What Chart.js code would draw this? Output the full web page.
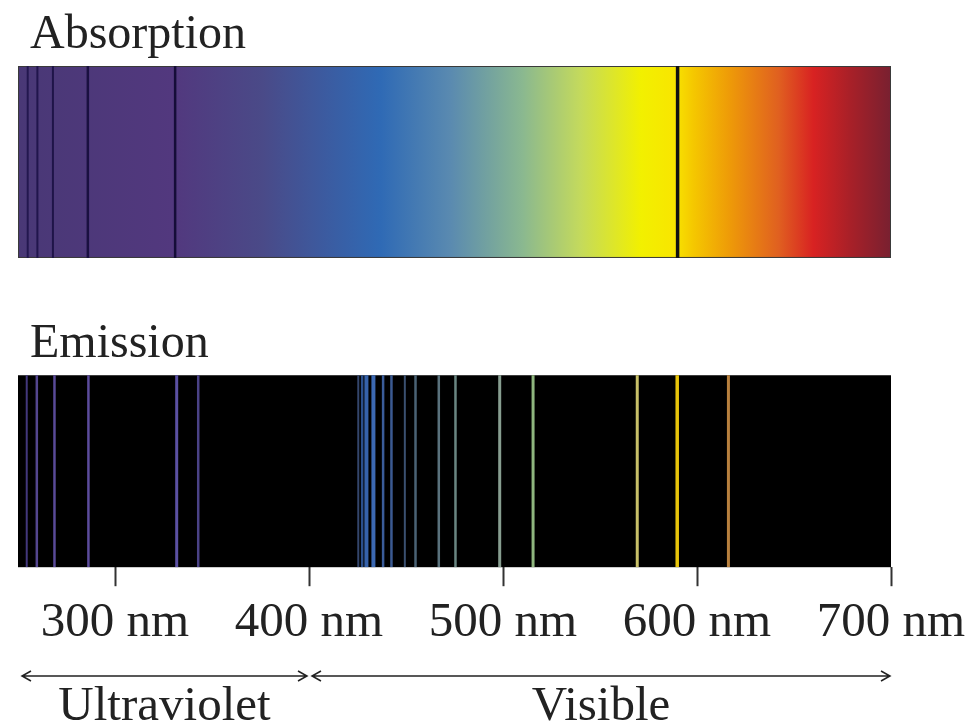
<!DOCTYPE html>
<html lang="en">
<head>
  <meta charset="UTF-8">
  <title>Absorption and Emission Spectrum</title>
</head>
<style>
  body { margin: 0; background: #fff; }
  .wrap { width: 977px; height: 727px; }
</style>
<body>
<div class="wrap">
  <canvas id="spectrum"></canvas>
</div>

<script src="https://cdn.jsdelivr.net/npm/chart.js"></script>

<script>
  // wavelengths in nm
  const absorptionLines = [255, 260, 268, 286, 331, 590];
  const emissionLines = [254.5, 259.7, 268.8, 286.3, 331.8, 342.9, 425.4, 427.4, 429.6, 433.2, 438.2,
    442.5, 449.4, 454.9, 466.9, 475.5, 498.3, 515.5, 569.2, 589.8, 616.2];
  const tickValues = [300, 400, 500, 600, 700];
  const rangeLabels = ['Ultraviolet', 'Visible'];
  const rangeStart = [250, 400];
  const rangeEnd = [400, 700];

  // look of the lines
  const absorptionColors = ['#23174f', '#21154c', '#1f1448', '#1a1040', '#150d38', '#111111'];
  const absorptionWidths = [2, 2, 2, 2.5, 2.5, 3.5];
  const emissionColors = ['#43387c', '#54468f', '#594a98', '#5c4c9c', '#5b50a2', '#4a4286',
    '#34466c', '#2b4f8c', '#3662aa', '#3b68b2', '#3a5c9a', '#3b5a92', '#3a5070', '#4a6274',
    '#5a727c', '#6a8682', '#879e90', '#8fb67e', '#c8c068', '#e8c40a', '#b8803e'];
  const emissionWidths = [2, 2.5, 2.5, 2.5, 3, 2.5, 2, 2.5, 4, 4, 2.5, 2.5, 2, 2.5, 2.5, 2.5, 3, 3, 3, 3.5, 3];

  // colour of the absorption band along the wavelength axis
  const spectrumStops = [
    [250, '#493876'], [330, '#52387e'], [376, '#4a4a88'], [437, '#2f6ab5'], [473, '#5a8ab0'],
    [510, '#8ab890'], [540, '#c4da5c'], [571, '#f2f000'], [588, '#f8e600'], [598, '#f5c800'],
    [617, '#ee9a08'], [642, '#e06020'], [660, '#d82222'], [679, '#a82028'], [700, '#782030']
  ];

  // vertical extent of the two bands on the hidden y scale
  const absBand = [61.7, 100];
  const emiBand = [0, 38.3];

  const serif = '"Liberation Serif", "Times New Roman", serif';

  function lineSets(list, band, colors, widths) {
    return list.map((nm, i) => ({
      data: [{x: nm, y: band[0]}, {x: nm, y: band[1]}],
      borderColor: colors[i],
      borderWidth: widths[i],
      pointRadius: 0,
      fill: false
    }));
  }

  const bandsPlugin = {
    id: 'bands',
    beforeDatasetsDraw(chart) {
      const {ctx, scales: {x, y}} = chart;
      const left = x.getPixelForValue(x.min);
      const right = x.getPixelForValue(x.max);
      const grad = ctx.createLinearGradient(left, 0, right, 0);
      spectrumStops.forEach(s => grad.addColorStop((s[0] - x.min) / (x.max - x.min), s[1]));

      ctx.save();
      let top = y.getPixelForValue(absBand[1]);
      let bottom = y.getPixelForValue(absBand[0]);
      ctx.fillStyle = grad;
      ctx.fillRect(left, top, right - left, bottom - top);
      ctx.strokeStyle = '#3a3a3a';
      ctx.lineWidth = 1;
      ctx.strokeRect(left + 0.5, top + 0.5, right - left - 1, bottom - top - 1);

      top = y.getPixelForValue(emiBand[1]);
      bottom = y.getPixelForValue(emiBand[0]);
      ctx.fillStyle = '#000';
      ctx.fillRect(left, top, right - left, bottom - top);
      ctx.restore();
    },
    afterDraw(chart) {
      const {ctx, scales: {x, y}} = chart;
      ctx.save();
      ctx.fillStyle = '#222';
      ctx.font = '48px ' + serif;
      ctx.textAlign = 'left';
      ctx.textBaseline = 'alphabetic';
      ctx.fillText('Absorption', 30, y.getPixelForValue(absBand[1]) - 18);
      ctx.fillText('Emission', 30, y.getPixelForValue(emiBand[1]) - 18);

      // wavelength ranges under the axis
      const ay = 676;
      ctx.strokeStyle = '#222';
      ctx.lineWidth = 1.5;
      ctx.font = '49px ' + serif;
      ctx.textAlign = 'center';
      rangeLabels.forEach((lab, i) => {
        const a = x.getPixelForValue(rangeStart[i]) + (i > 0 ? 3 : 4);
        const b = x.getPixelForValue(rangeEnd[i]) - (i === 0 ? 2 : 1);
        ctx.beginPath();
        ctx.moveTo(a, ay);
        ctx.lineTo(b, ay);
        ctx.moveTo(a + 9, ay - 5);
        ctx.lineTo(a, ay);
        ctx.lineTo(a + 9, ay + 5);
        ctx.moveTo(b - 9, ay - 5);
        ctx.lineTo(b, ay);
        ctx.lineTo(b - 9, ay + 5);
        ctx.stroke();
        ctx.fillText(lab, (a + b) / 2, 720);
      });
      ctx.restore();
    }
  };

  new Chart(document.getElementById('spectrum').getContext('2d'), {
    type: 'line',
    data: {
      datasets: lineSets(absorptionLines, absBand, absorptionColors, absorptionWidths)
        .concat(lineSets(emissionLines, emiBand, emissionColors, emissionWidths))
    },
    options: {
      responsive: true,
      maintainAspectRatio: false,
      animation: false,
      layout: { padding: { left: 18, right: 86, top: 66, bottom: 66 } },
      plugins: { legend: { display: false }, tooltip: { enabled: false } },
      scales: {
        x: {
          type: 'linear',
          min: 250,
          max: 700,
          afterBuildTicks: s => { s.ticks = tickValues.map(v => ({value: v})); },
          grid: { drawOnChartArea: false, drawTicks: true, tickLength: 19, tickWidth: 2, tickColor: '#333' },
          border: { display: false },
          ticks: {
            callback: v => v + ' nm',
            font: { family: serif, size: 49 },
            color: '#222',
            padding: 8,
            maxRotation: 0,
            autoSkip: false
          }
        },
        y: { display: false, min: 0, max: 100 }
      }
    },
    plugins: [bandsPlugin]
  });
</script>
</body>
</html>
